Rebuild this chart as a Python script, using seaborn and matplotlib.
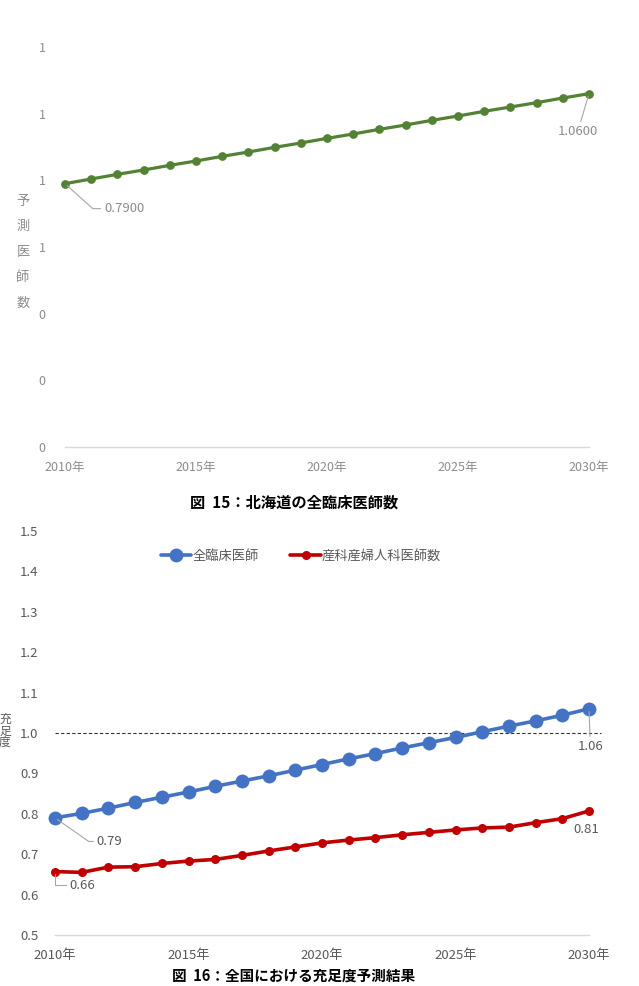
import matplotlib
matplotlib.use("Agg")
import matplotlib.pyplot as plt
import numpy as np
import pandas as pd
import seaborn as sns
from matplotlib.ticker import FuncFormatter, MultipleLocator

# ---- data ----------------------------------------------------------------
years = list(range(2010, 2031))

# top chart: 北海道の全臨床医師数 (predicted, relative)
hokkaido_clinical = [0.790, 0.804, 0.818, 0.831, 0.845, 0.858, 0.872, 0.885,
                     0.899, 0.912, 0.926, 0.939, 0.953, 0.966, 0.980, 0.993,
                     1.007, 1.020, 1.033, 1.047, 1.060]

# bottom chart: 全国における充足度
national_clinical = [0.790, 0.801, 0.814, 0.828, 0.841, 0.854, 0.868, 0.881,
                     0.894, 0.908, 0.922, 0.936, 0.949, 0.963, 0.976, 0.989,
                     1.003, 1.017, 1.030, 1.044, 1.060]
national_obgyn = [0.657, 0.655, 0.668, 0.669, 0.677, 0.683, 0.687, 0.697,
                  0.708, 0.718, 0.728, 0.735, 0.741, 0.748, 0.754, 0.760,
                  0.765, 0.767, 0.778, 0.788, 0.807]

series_names = ["全臨床医師", "産科産婦人科医師数"]
threshold = 1.0

GREEN = "#548235"
BLUE = "#4472C4"
RED = "#C00000"
GRID_GREY = "#D9D9D9"
TXT_LIGHT = "#8C8C8C"
TXT_DARK = "#595959"

sns.set_theme(style="white")
plt.rcParams["font.family"] = ["Noto Sans CJK JP", "DejaVu Sans"]

fig = plt.figure(figsize=(6.39, 9.86), dpi=100)
W, H = 639, 986


def px_axes(left, top, right, bottom):
    return fig.add_axes([left / W, 1 - bottom / H, (right - left) / W, (bottom - top) / H])


def style_axes(ax, color, size, pad):
    sns.despine(ax=ax, left=True, top=True, right=True)
    ax.spines["bottom"].set_color(GRID_GREY)
    ax.spines["bottom"].set_linewidth(1.0)
    ax.tick_params(axis="both", length=0, labelcolor=color, labelsize=size)
    ax.tick_params(axis="y", pad=pad)
    ax.tick_params(axis="x", pad=10)
    ax.set_xlim(years[0], years[-1])
    ax.set_xticks(years[::5])
    ax.set_xticklabels([f"{y}年" for y in years[::5]])
    ax.set_xlabel("")
    ax.set_ylabel("")


def leader(ax, xy_from, xy_text, text, elbow=None, color=TXT_DARK, size=9.5, ha="left"):
    # data label with a thin grey leader line (offsets in points)
    ax.annotate(text, xy=xy_from, xytext=xy_text, textcoords="offset points",
                ha=ha, va="center", color=color, fontsize=size,
                arrowprops=dict(arrowstyle="-", color="#A6A6A6", lw=0.8,
                                shrinkA=0, shrinkB=2,
                                connectionstyle=elbow or "arc3"),
                annotation_clip=False)


# ---- top chart -----------------------------------------------------------
ax1 = px_axes(65, 47, 589, 447)
sns.lineplot(x=years, y=hokkaido_clinical, ax=ax1, color=GREEN, lw=2.3,
             marker="o", markersize=6.3, markeredgewidth=0, clip_on=False)
ax1.set_ylim(0, 1.2)
ax1.yaxis.set_major_locator(MultipleLocator(0.2))
ax1.yaxis.set_major_formatter(FuncFormatter(lambda v, _: f"{v:.0f}"))
style_axes(ax1, TXT_LIGHT, 9, 14)

leader(ax1, (years[0], hokkaido_clinical[0]), (28, -18), f"{hokkaido_clinical[0]:.4f}",
       elbow="angle,angleA=0,angleB=-42,rad=0", color=TXT_LIGHT)
leader(ax1, (years[-1], hokkaido_clinical[-1]), (-8, -27), f"{hokkaido_clinical[-1]:.4f}",
       color=TXT_LIGHT, ha="center")

fig.text(23 / W, 1 - 252 / H, "\n".join("予測医師数"), ha="center", va="center",
         color=TXT_LIGHT, fontsize=9.5, linespacing=2.25)

fig.text(294 / W, 1 - 503 / H, "図  15：北海道の全臨床医師数", ha="center", va="center",
         color="black", fontsize=11, fontweight="bold")

# ---- bottom chart --------------------------------------------------------
df = pd.DataFrame({
    "year": years * 2,
    "value": national_clinical + national_obgyn,
    "series": [series_names[0]] * len(years) + [series_names[1]] * len(years),
})

ax2 = px_axes(55, 531, 589, 935)
ax2.hlines(threshold, years[0], years[-1] + 0.45, colors="#333333", lw=0.8,
           linestyles=(0, (3, 2)), clip_on=False, zorder=1)
sns.lineplot(data=df[df.series == series_names[0]], x="year", y="value", ax=ax2,
             color=BLUE, lw=2.6, marker="o", markersize=10, markeredgewidth=0,
             label=series_names[0], clip_on=False, zorder=3)
sns.lineplot(data=df[df.series == series_names[1]], x="year", y="value", ax=ax2,
             color=RED, lw=2.6, marker="o", markersize=6.5, markeredgewidth=0,
             label=series_names[1], clip_on=False, zorder=3)
ax2.set_ylim(0.5, 1.5)
ax2.yaxis.set_major_locator(MultipleLocator(0.1))
ax2.yaxis.set_major_formatter(FuncFormatter(lambda v, _: f"{v:.1f}"))
style_axes(ax2, TXT_DARK, 9.5, 12)

leg = ax2.legend(loc="center", bbox_to_anchor=(301 / W, 1 - 556 / H),
                 bbox_transform=fig.transFigure, ncol=2, frameon=False,
                 handlelength=2.3, handletextpad=0.1, columnspacing=2.4,
                 fontsize=9.5)
for t in leg.get_texts():
    t.set_color(TXT_DARK)

leader(ax2, (years[0], national_clinical[0]), (30, -17), f"{national_clinical[0]:.2f}",
       elbow="angle,angleA=0,angleB=-35,rad=0")
leader(ax2, (years[0], national_obgyn[0]), (10, -10), f"{national_obgyn[0]:.2f}",
       elbow="angle,angleA=0,angleB=90,rad=0")
leader(ax2, (years[-1], national_clinical[-1]), (1, -27), f"{national_clinical[-1]:.2f}",
       ha="center")
ax2.annotate(f"{national_obgyn[-1]:.2f}", xy=(years[-1], national_obgyn[-1]),
             xytext=(-2, -13), textcoords="offset points", ha="center", va="center",
             color=TXT_DARK, fontsize=9.5, annotation_clip=False)

fig.text(5 / W, 1 - 731 / H, "\n".join("充足度"), ha="center", va="center",
         color=TXT_DARK, fontsize=8.5, linespacing=0.85)

fig.text(294 / W, 1 - 984 / H, "図  16：全国における充足度予測結果", ha="center", va="bottom",
         color="black", fontsize=10.5, fontweight="bold")

fig.savefig("out.png", dpi=100, facecolor="white")
plt.close(fig)
